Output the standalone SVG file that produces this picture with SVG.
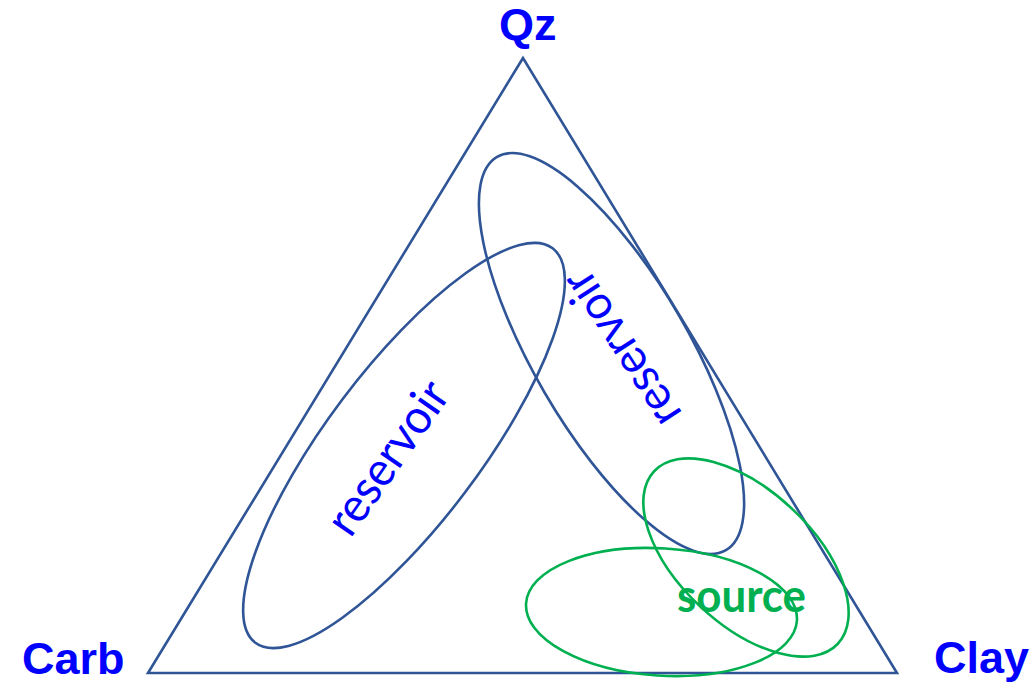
<svg xmlns="http://www.w3.org/2000/svg" width="1035" height="682" viewBox="0 0 1035 682">
<style>
.edge{fill:none;stroke:#2F5597;stroke-width:2.6}
.grn{fill:none;stroke:#00B050;stroke-width:2.6}
.lbl{font-family:"Liberation Sans",Arial,sans-serif;font-weight:bold;font-size:45px;fill:#0000FF}
.res{font-family:Lato,"Open Sans",sans-serif;font-size:48px;fill:#0000FF}
.src{font-family:Lato,"Open Sans",sans-serif;font-weight:bold;font-size:46px;fill:#00B050}
</style>
<rect width="1035" height="682" fill="#FFFFFF"/>
<g id="triangle">
<polygon class="edge" points="523,58 148,673 897,673"/>
</g>
<g id="reservoir-left">
<ellipse class="edge" cx="404" cy="445.5" rx="247" ry="77" transform="rotate(-53 404 445.5)"/>
<text class="res" x="401" y="467" text-anchor="middle" textLength="176" lengthAdjust="spacingAndGlyphs" transform="rotate(-55 401 467)">reservoir</text>
</g>
<g id="reservoir-right">
<ellipse class="edge" cx="611.5" cy="353.5" rx="227.5" ry="77.5" transform="rotate(59.8 611.5 353.5)"/>
<text class="res" x="635" y="340" text-anchor="middle" textLength="176" lengthAdjust="spacingAndGlyphs" transform="rotate(-123 635 340)">reservoir</text>
</g>
<g id="source">
<ellipse class="grn" cx="746" cy="557.5" rx="126" ry="67" transform="rotate(43.2 746 557.5)"/>
<ellipse class="grn" cx="661.5" cy="612" rx="135.7" ry="63.6" transform="rotate(3.6 661.5 612)"/>
<text class="src" x="741.5" y="612" text-anchor="middle" textLength="129" lengthAdjust="spacingAndGlyphs">source</text>
</g>
<g id="label-qz"><text class="lbl" x="499" y="40">Qz</text></g>
<g id="label-carb"><text class="lbl" x="22" y="674">Carb</text></g>
<g id="label-clay"><text class="lbl" x="934" y="673">Clay</text></g>
<g id="connectors"></g>
</svg>
